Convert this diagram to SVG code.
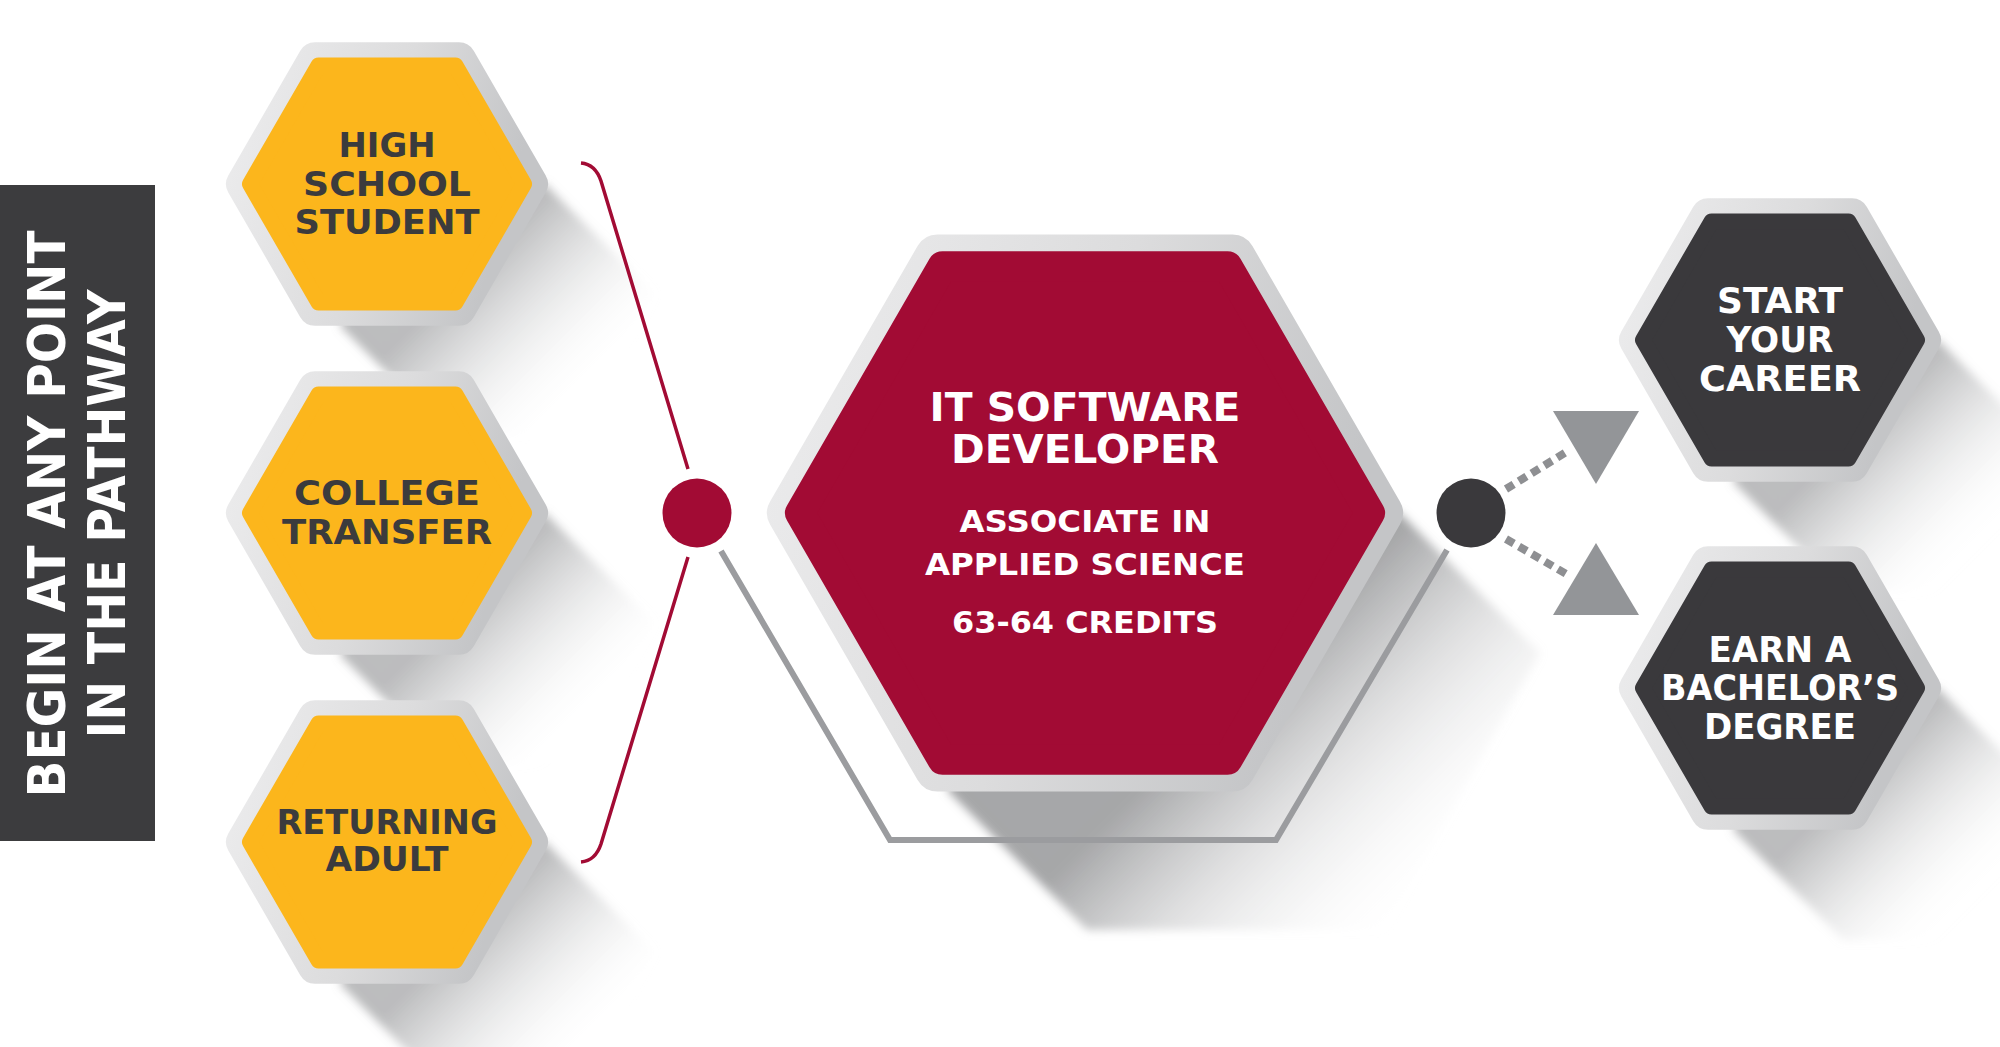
<svg xmlns="http://www.w3.org/2000/svg" width="2000" height="1047" viewBox="0 0 2000 1047">
<defs>
  <style>
    .t { font-family: "DejaVu Sans", "Liberation Sans", sans-serif; font-weight: bold; text-anchor: middle; }
    .dk { fill: #3b3b3d; }
    .wt { fill: #ffffff; }
    .rim { fill: url(#rimGrad); stroke: url(#rimGrad); stroke-linejoin: round; }
    .yel { fill: #fcb61c; stroke: #fcb61c; stroke-linejoin: round; }
    .drk { fill: #3a393c; stroke: #3a393c; stroke-linejoin: round; }
    .red { fill: #a20b34; stroke: #a20b34; stroke-linejoin: round; }
  </style>
  <linearGradient id="rimGrad" x1="0" y1="0" x2="1" y2="0.25">
    <stop offset="0" stop-color="#ececed"/>
    <stop offset="0.55" stop-color="#dcdcdd"/>
    <stop offset="1" stop-color="#c4c5c7"/>
  </linearGradient>
  <linearGradient id="shGradS" gradientUnits="userSpaceOnUse" x1="85" y1="85" x2="205" y2="205">
    <stop offset="0" stop-color="#8f9092" stop-opacity="0.6"/>
    <stop offset="0.4" stop-color="#a9aaac" stop-opacity="0.3"/>
    <stop offset="1" stop-color="#ffffff" stop-opacity="0"/>
  </linearGradient>
  <linearGradient id="shGradL" gradientUnits="userSpaceOnUse" x1="165" y1="165" x2="370" y2="370">
    <stop offset="0" stop-color="#88898b" stop-opacity="0.75"/>
    <stop offset="0.4" stop-color="#a5a6a8" stop-opacity="0.35"/>
    <stop offset="1" stop-color="#ffffff" stop-opacity="0"/>
  </linearGradient>
  <filter id="blur" x="-20%" y="-20%" width="140%" height="140%">
    <feGaussianBlur stdDeviation="5"/>
  </filter>
  <polygon id="shS" points="158,0 268,110 191,252 63,252 -47,142 0,0" fill="url(#shGradS)" filter="url(#blur)"/>
  <polygon id="shL" points="315,0 455,140 300,417 2,417 -138,277 0,0" fill="url(#shGradL)" filter="url(#blur)"/>
</defs>

<rect x="0" y="0" width="2000" height="1047" fill="#ffffff"/>

<g id="shadows">
  <use href="#shS" transform="translate(387,184)"/>
  <use href="#shS" transform="translate(387,513)"/>
  <use href="#shS" transform="translate(387,842)"/>
  <use href="#shL" transform="translate(1085,513)"/>
  <use href="#shS" transform="translate(1780,340)"/>
  <use href="#shS" transform="translate(1780,688)"/>
</g>

<g id="side-label">
  <rect x="0" y="185" width="155" height="656" fill="#3c3c3e"/>
  <text class="t wt" font-size="52" transform="translate(65,514) rotate(-90)" textLength="567" lengthAdjust="spacingAndGlyphs">BEGIN AT ANY POINT</text>
  <text class="t wt" font-size="52" transform="translate(125,514) rotate(-90)" textLength="449" lengthAdjust="spacingAndGlyphs">IN THE PATHWAY</text>
</g>

<g id="connectors" fill="none">
  <path d="M581,163 C592,164 598,172 601,181 L688,469" stroke="#a20b34" stroke-width="3.5"/>
  <path d="M581,862 C592,861 598,853 601,844 L688,557" stroke="#a20b34" stroke-width="3.5"/>
  <polyline points="721,551 890,840 1276,840 1447,550" stroke="#9b9c9f" stroke-width="6" stroke-linejoin="miter"/>
  <line x1="1506" y1="489" x2="1568" y2="451" stroke="#8e8f92" stroke-width="8" stroke-dasharray="9 6"/>
  <line x1="1506" y1="539" x2="1568" y2="575" stroke="#8e8f92" stroke-width="8" stroke-dasharray="9 6"/>
  <polygon points="1553,411 1639,411 1596,484" fill="#939598"/>
  <polygon points="1596,543 1639,615 1553,615" fill="#939598"/>
  <circle cx="697" cy="513" r="34.5" fill="#a20b34"/>
  <circle cx="1471" cy="513" r="34.5" fill="#3a393c"/>
</g>

<g id="node-high-school" transform="translate(387,184)">
  <polygon class="rim" stroke-width="34" points="-144,0 -72,-124.7 72,-124.7 144,0 72,124.7 -72,124.7"/>
  <polygon class="yel" stroke-width="16" points="-137,0 -68.5,-118.6 68.5,-118.6 137,0 68.5,118.6 -68.5,118.6"/>
  <text class="t dk" font-size="34" x="0" y="-27" textLength="97" lengthAdjust="spacingAndGlyphs">HIGH</text>
  <text class="t dk" font-size="34" x="0" y="12" textLength="168" lengthAdjust="spacingAndGlyphs">SCHOOL</text>
  <text class="t dk" font-size="34" x="0" y="50" textLength="185" lengthAdjust="spacingAndGlyphs">STUDENT</text>
</g>

<g id="node-college-transfer" transform="translate(387,513)">
  <polygon class="rim" stroke-width="34" points="-144,0 -72,-124.7 72,-124.7 144,0 72,124.7 -72,124.7"/>
  <polygon class="yel" stroke-width="16" points="-137,0 -68.5,-118.6 68.5,-118.6 137,0 68.5,118.6 -68.5,118.6"/>
  <text class="t dk" font-size="34" x="0" y="-8" textLength="186" lengthAdjust="spacingAndGlyphs">COLLEGE</text>
  <text class="t dk" font-size="34" x="0" y="31" textLength="210" lengthAdjust="spacingAndGlyphs">TRANSFER</text>
</g>

<g id="node-returning-adult" transform="translate(387,842)">
  <polygon class="rim" stroke-width="34" points="-144,0 -72,-124.7 72,-124.7 144,0 72,124.7 -72,124.7"/>
  <polygon class="yel" stroke-width="16" points="-137,0 -68.5,-118.6 68.5,-118.6 137,0 68.5,118.6 -68.5,118.6"/>
  <text class="t dk" font-size="34" x="0" y="-8" textLength="221" lengthAdjust="spacingAndGlyphs">RETURNING</text>
  <text class="t dk" font-size="34" x="0" y="29" textLength="123" lengthAdjust="spacingAndGlyphs">ADULT</text>
</g>

<g id="node-it-software-developer" transform="translate(1085,513)">
  <polygon class="rim" stroke-width="46" points="-295,0 -147.5,-255.5 147.5,-255.5 295,0 147.5,255.5 -147.5,255.5"/>
  <polygon class="red" stroke-width="30" points="-285,0 -142.5,-246.8 142.5,-246.8 285,0 142.5,246.8 -142.5,246.8"/>
  <text class="t wt" font-size="39" x="0" y="-92" textLength="311" lengthAdjust="spacingAndGlyphs">IT SOFTWARE</text>
  <text class="t wt" font-size="39" x="0" y="-50" textLength="268" lengthAdjust="spacingAndGlyphs">DEVELOPER</text>
  <text class="t wt" font-size="31" x="0" y="19" textLength="251" lengthAdjust="spacingAndGlyphs">ASSOCIATE IN</text>
  <text class="t wt" font-size="31" x="0" y="62" textLength="320" lengthAdjust="spacingAndGlyphs">APPLIED SCIENCE</text>
  <text class="t wt" font-size="31" x="0" y="120" textLength="266" lengthAdjust="spacingAndGlyphs">63-64 CREDITS</text>
</g>

<g id="node-start-career" transform="translate(1780,340)">
  <polygon class="rim" stroke-width="34" points="-144,0 -72,-124.7 72,-124.7 144,0 72,124.7 -72,124.7"/>
  <polygon class="drk" stroke-width="16" points="-137,0 -68.5,-118.6 68.5,-118.6 137,0 68.5,118.6 -68.5,118.6"/>
  <text class="t wt" font-size="35" x="0" y="-27" textLength="126" lengthAdjust="spacingAndGlyphs">START</text>
  <text class="t wt" font-size="35" x="0" y="12" textLength="107" lengthAdjust="spacingAndGlyphs">YOUR</text>
  <text class="t wt" font-size="35" x="0" y="51" textLength="162" lengthAdjust="spacingAndGlyphs">CAREER</text>
</g>

<g id="node-bachelors" transform="translate(1780,688)">
  <polygon class="rim" stroke-width="34" points="-144,0 -72,-124.7 72,-124.7 144,0 72,124.7 -72,124.7"/>
  <polygon class="drk" stroke-width="16" points="-137,0 -68.5,-118.6 68.5,-118.6 137,0 68.5,118.6 -68.5,118.6"/>
  <text class="t wt" font-size="35" x="0" y="-26" textLength="143" lengthAdjust="spacingAndGlyphs">EARN A</text>
  <text class="t wt" font-size="35" x="0" y="12" textLength="238" lengthAdjust="spacingAndGlyphs">BACHELOR’S</text>
  <text class="t wt" font-size="35" x="0" y="51" textLength="152" lengthAdjust="spacingAndGlyphs">DEGREE</text>
</g>
</svg>
